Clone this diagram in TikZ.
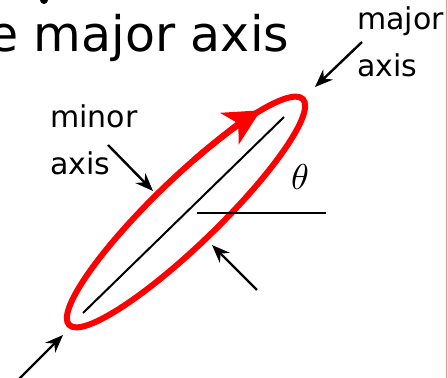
\documentclass[tikz,border=0pt]{standalone}
\usepackage{fontspec}
\setmainfont{DejaVu Sans}
\usetikzlibrary{arrows.meta}

\begin{document}
\begin{tikzpicture}[x=1pt, y=1pt,
  pointer/.style={line width=2.4pt, -{Stealth[length=18pt, width=14pt]}},
  orbit/.style={red, line width=6pt},
  label/.style={inner sep=0pt, anchor=base west, font=\fontsize{30}{34}\selectfont}]
\useasboundingbox (0,0) rectangle (448,378);
\clip (0,0) rectangle (448,378);
\fill[white] (0,0) rectangle (448,378);
\draw[red!45, line width=1pt] (446.5,0) -- (446.5,378);
\fill (44,378) circle (4);
\node[inner sep=0pt, anchor=base west, font=\fontsize{49}{56}\selectfont] (title) at (-12,326) {e major axis};
\coordinate (c) at (186,166);
\coordinate (lo) at (83,65);
\coordinate (hi) at (284,261);
\draw[line width=2pt] (lo) -- (hi);
\draw[orbit, rotate around={44:(c)}] (c) ellipse (162.5 and 33);
\draw[orbit, -{Stealth[length=36pt, width=36pt, inset=10pt]}, shift={(c)}, rotate=44]
  (75:162.5 and 33) arc[start angle=75, end angle=40, x radius=162.5, y radius=33];
\coordinate (hl) at (197,165);
\coordinate (hr) at (326,165);
\draw[line width=2.5pt] (hl) -- (hr);
\node[inner sep=0pt] (theta) at (300,201) {\scalebox{3.6}{$\theta$}};
\node[label] (major) at (357,348) {major};
\node[label] (majax) at (357,301) {axis};
\node[label] (minor) at (50,250) {minor};
\node[label] (minax) at (50,203) {axis};
\coordinate (majtail) at (362,336);
\coordinate (majtip) at (315,291);
\coordinate (mintail) at (108,233);
\coordinate (mintip) at (153,187);
\coordinate (wtail) at (257,88);
\coordinate (wtip) at (212,133);
\coordinate (btail) at (16,-4);
\coordinate (btip) at (63,43);
\draw[pointer] (majtail) -- (majtip);
\draw[pointer] (mintail) -- (mintip);
\draw[pointer] (wtail) -- (wtip);
\draw[pointer] (btail) -- (btip);
\end{tikzpicture}
\end{document}
